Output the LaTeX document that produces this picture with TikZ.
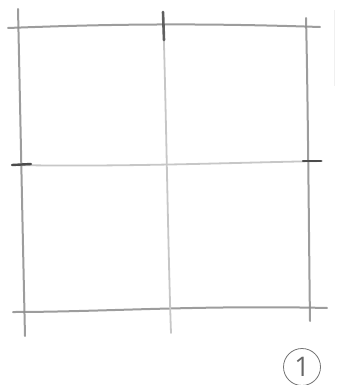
\documentclass[tikz,border=0pt]{standalone}
\usepackage{fontspec}
\setmainfont{Open Sans}
\usetikzlibrary{positioning}

\begin{document}
\begin{tikzpicture}[x=1pt, y=-1pt,
		pencil/.style={line width=2pt, line cap=round, color=black!45, opacity=0.85},
		light/.style={line width=1.8pt, line cap=round, color=black!22},
		tick/.style={line width=2.4pt, line cap=round, color=black!70},
		label/.style={circle, draw=black!55, line width=0.8pt, minimum size=37pt, inner sep=0pt, text=black!60, font=\fontsize{27}{27}\selectfont}
	]
	\useasboundingbox (0,0) rectangle (337,385);
	% grid corners
	\coordinate (tl) at (8,28);
	\coordinate (tr) at (320,27);
	\coordinate (ml) at (12,165);
	\coordinate (mr) at (322,161);
	\coordinate (bl) at (13,312);
	\coordinate (br) at (327,308);
	\coordinate (lt) at (18,9);
	\coordinate (lb) at (25,336);
	\coordinate (ct) at (163,12);
	\coordinate (cb) at (171,333);
	\coordinate (rt) at (306,18);
	\coordinate (rb) at (310,321);
	% horizontal strokes
	\draw[pencil] (tl) .. controls (110,24) and (200,23) .. (tr);
	\draw[light] (ml) .. controls (120,167) and (220,163) .. (mr);
	\draw[pencil] (bl) .. controls (100,312) and (200,305) .. (br);
	% vertical strokes
	\draw[pencil] (lt) .. controls (20,100) and (23,250) .. (lb);
	\draw[light] (ct) .. controls (166,100) and (168,250) .. (cb);
	\draw[pencil, line width=2.6pt, black!70] (ct) -- (164,40);
	\draw[pencil] (rt) .. controls (308,100) and (309,250) .. (rb);
	\draw[line width=1pt, black!6] (334,10) -- (334,86);
	% ticks on the middle line
	\draw[tick] (12,165) -- (31,164);
	\draw[tick] (303,161) -- (321,161);
	% number
	\node[label] (one) at (302,367) {1};
\end{tikzpicture}
\end{document}
